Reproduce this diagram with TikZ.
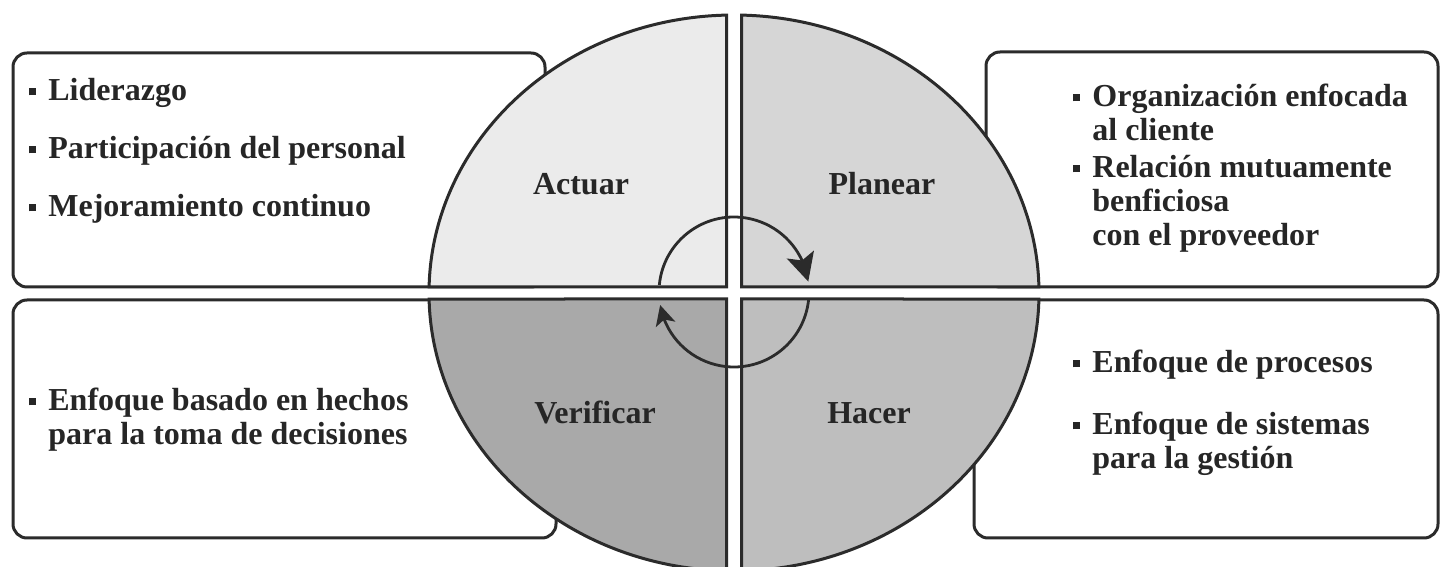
\documentclass[tikz,border=0pt]{standalone}
\usepackage{fontspec}
\setmainfont{Liberation Serif}
\usepackage{xcolor}
\definecolor{cLine}{HTML}{2B2B2B}
\definecolor{cText}{HTML}{262626}
\definecolor{cAct}{HTML}{EBEBEB}
\definecolor{cPlan}{HTML}{D6D6D6}
\definecolor{cVer}{HTML}{A9A9A9}
\definecolor{cHac}{HTML}{BEBEBE}
\usepackage{tikz}
\usetikzlibrary{arrows.meta,bending,calc}
\newcommand{\blt}{\llap{\rule[2.8pt]{3.6pt}{3.6pt}\hspace{6pt}}}
\tikzset{
  list-box/.style={draw=cLine,line width=1.5pt,rounded corners=7pt,fill=white},
  quad/.style={draw=cLine,line width=1.5pt},
  quad-label/.style={anchor=base,inner sep=0pt,text=cText,
    font=\fontsize{16}{17}\selectfont\bfseries},
  % base west = linea base de la ultima linea del texto
  list-text/.style={anchor=base west,align=left,inner sep=0pt,text=cText,
    font=\fontsize{16}{17}\selectfont\bfseries},
  arrow-cycle/.style={draw=cLine,line width=1.4pt},
}

\begin{document}
\begin{tikzpicture}[x=0.5pt,y=0.5pt]
  \useasboundingbox (0,0) rectangle (1441,567);
  \clip (0,0) rectangle (1441,567);
  \coordinate (ctr) at (734,274);
  \coordinate (inner) at (734,275);

  % cajas laterales (detras del circulo)
  \draw[list-box] (13,280) rectangle (545,514);
  \draw[list-box] (13,29) rectangle (556,267);
  \draw[list-box] (986,280) rectangle (1438,515);
  \draw[list-box] (974,29) rectangle (1438,267);

  % cuadrantes del ciclo
  \draw[quad,fill=cAct]  (726.5,280) -- ($(ctr)+(91.41:305 and 278)$)
    arc[start angle=91.41,end angle=178.76,x radius=305,y radius=278] -- cycle;
  \draw[quad,fill=cPlan] (741.5,280) -- ($(ctr)+(1.24:305 and 278)$)
    arc[start angle=1.24,end angle=88.59,x radius=305,y radius=278] -- cycle;
  \draw[quad,fill=cVer]  (726.5,268) -- ($(ctr)+(181.24:305 and 278)$)
    arc[start angle=181.24,end angle=268.59,x radius=305,y radius=278] -- cycle;
  \draw[quad,fill=cHac]  (741.5,268) -- ($(ctr)+(271.41:305 and 278)$)
    arc[start angle=271.41,end angle=358.76,x radius=305,y radius=278] -- cycle;

  \node[quad-label] (act) at (581,372) {Actuar};
  \node[quad-label] (pla) at (882,372) {Planear};
  \node[quad-label] (ver) at (595,143) {Verificar};
  \node[quad-label] (hac) at (869,143) {Hacer};

  % flechas del ciclo
  \draw[arrow-cycle,-{Stealth[length=14pt,width=14pt,inset=3pt]}]
    ($(inner)+(174.6:75)$) arc[start angle=174.6,end angle=8,radius=75];
  \draw[arrow-cycle,-{Stealth[length=10pt,width=10pt,inset=2.5pt]}]
    ($(inner)+(-6:75)$) arc[start angle=-6,end angle=-170,radius=75];

  % textos
  \node[list-text] (lid) at (48,466) {\blt Liderazgo};
  \node[list-text] (par) at (48,408) {\blt Participación del personal};
  \node[list-text] (mej) at (48,350) {\blt Mejoramiento continuo};
  \node[list-text] (hec) at (48,122) {\blt Enfoque basado en hechos\\para la toma de decisiones};
  \node[list-text] (cli) at (1092,426) {\blt Organización enfocada\\al cliente};
  \node[list-text] (pro) at (1092,321) {\blt Relación mutuamente\\benficiosa\\con el proveedor};
  \node[list-text] (prc) at (1092,194) {\blt Enfoque de procesos};
  \node[list-text] (sis) at (1092,98) {\blt Enfoque de sistemas\\para la gestión};
\end{tikzpicture}
\end{document}
